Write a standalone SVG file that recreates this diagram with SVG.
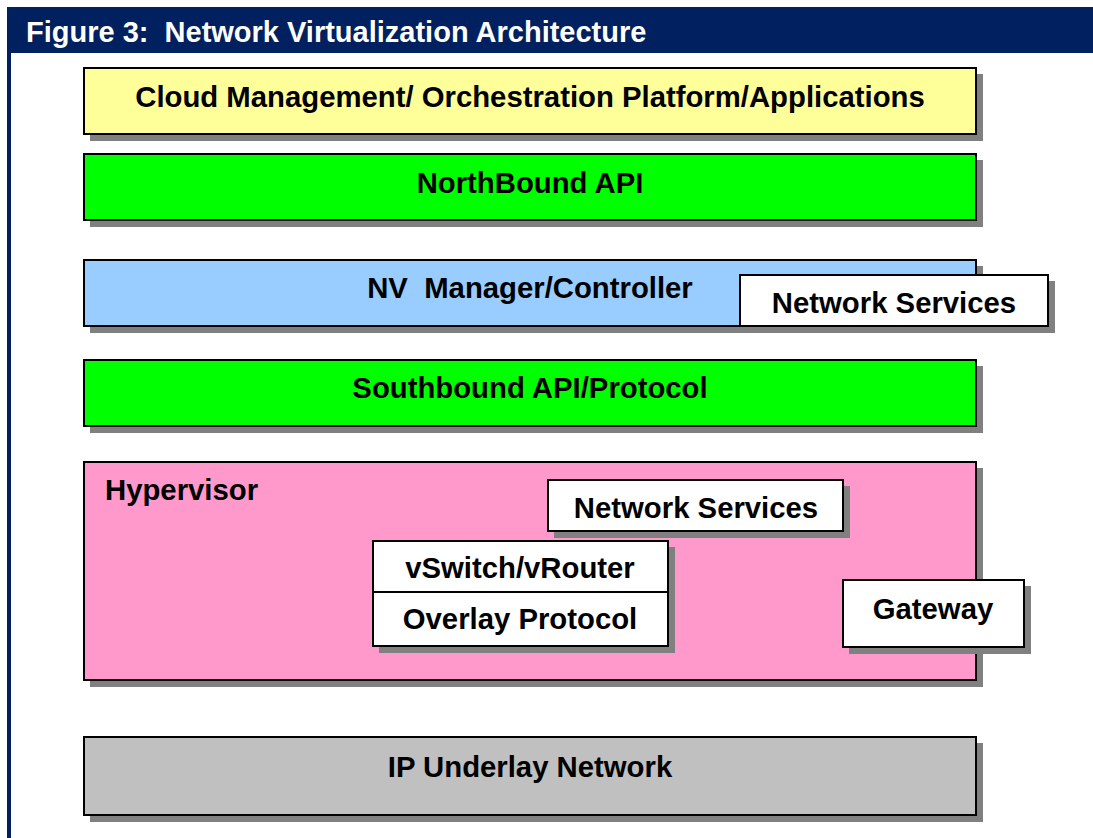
<svg xmlns="http://www.w3.org/2000/svg" width="1093" height="838" viewBox="0 0 1093 838">
<style>
text{font-family:"Liberation Sans",Arial,sans-serif;font-weight:bold;fill:#000;font-size:29.3px;text-anchor:middle}
.sh{fill:#808080}
.bx{stroke:#000;stroke-width:2}
.title{fill:#fff;text-anchor:start;font-size:29px}
</style>
<rect x="0" y="0" width="1093" height="838" fill="#fff"/>
<rect x="7" y="7" width="1086" height="46" fill="#002060"/>
<rect x="7" y="53" width="4" height="785" fill="#002060"/>
<text class="title" x="26" y="42" xml:space="preserve">Figure 3:  Network Virtualization Architecture</text>
<g id="cloud">
<rect class="sh" x="90" y="74" width="893" height="67"/>
<rect class="bx" x="84" y="68" width="892" height="66" fill="#FFFF99"/>
<text x="530" y="107">Cloud Management/ Orchestration Platform/Applications</text>
</g>
<g id="northbound">
<rect class="sh" x="90" y="160" width="893" height="67"/>
<rect class="bx" x="84" y="154" width="892" height="66" fill="#00FF00"/>
<text x="530" y="193">NorthBound API</text>
</g>
<g id="nvmanager">
<rect class="sh" x="90" y="266" width="893" height="67"/>
<rect class="bx" x="84" y="260" width="892" height="66" fill="#99CCFF"/>
<text x="530" y="298" xml:space="preserve">NV  Manager/Controller</text>
</g>
<g id="netsvc1">
<rect class="sh" x="746" y="281" width="309" height="52"/>
<rect class="bx" x="740" y="275" width="308" height="51" fill="#fff"/>
<text x="894" y="313">Network Services</text>
</g>
<g id="southbound">
<rect class="sh" x="90" y="366" width="893" height="67"/>
<rect class="bx" x="84" y="360" width="892" height="66" fill="#00FF00"/>
<text x="530" y="398">Southbound API/Protocol</text>
</g>
<g id="hypervisor">
<rect class="sh" x="90" y="468" width="893" height="219"/>
<rect class="bx" x="84" y="462" width="892" height="218" fill="#FF99CC"/>
<text x="105" y="500" style="text-anchor:start">Hypervisor</text>
</g>
<g id="netsvc2">
<rect class="sh" x="554" y="486" width="296" height="52"/>
<rect class="bx" x="548" y="480" width="295" height="51" fill="#fff"/>
<text x="696" y="518">Network Services</text>
</g>
<g id="vswitch">
<rect class="sh" x="379" y="547" width="296" height="106"/>
<rect class="bx" x="373" y="541" width="295" height="51" fill="#fff"/>
<text x="520" y="578">vSwitch/vRouter</text>
</g>
<g id="overlay">
<rect class="bx" x="373" y="592" width="295" height="54" fill="#fff"/>
<text x="520" y="629">Overlay Protocol</text>
</g>
<g id="gateway">
<rect class="sh" x="849" y="586" width="182" height="68"/>
<rect class="bx" x="843" y="580" width="181" height="67" fill="#fff"/>
<text x="933" y="619">Gateway</text>
</g>
<g id="underlay">
<rect class="sh" x="90" y="743" width="893" height="79"/>
<rect class="bx" x="84" y="737" width="892" height="78" fill="#C0C0C0"/>
<text x="530" y="777">IP Underlay Network</text>
</g>
<g id="connectors"/>
</svg>
